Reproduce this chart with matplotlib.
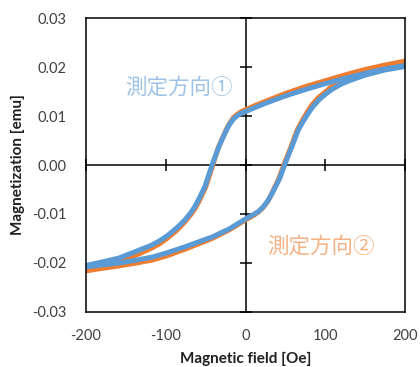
import matplotlib
matplotlib.use("Agg")
import matplotlib.pyplot as plt
from matplotlib.ticker import FormatStrFormatter

plt.rcParams['font.family'] = ['Lato', 'DejaVu Sans']
plt.rcParams['axes.unicode_minus'] = False

# hysteresis loops (field in Oe, magnetization in emu)
# direction 1 (blue)
h_down_1 = [200, 175, 150, 125, 100, 75, 50, 25, 10, 0, -5, -10, -15, -20, -24, -28,
            -34, -42, -51, -59, -64, -69, -76, -86, -97, -107, -117, -140, -159, -180,
            -200]
m_down_1 = [0.0203, 0.0196, 0.0187, 0.0177, 0.0166, 0.0154, 0.0141, 0.0126, 0.0116,
            0.0109, 0.0106, 0.0101, 0.0094, 0.0083, 0.0071, 0.0057, 0.0035, 0.0000,
            -0.0044, -0.0071, -0.0086, -0.0098, -0.0112, -0.0128, -0.0143, -0.0154,
            -0.0163, -0.0178, -0.0190, -0.0198, -0.0205]
h_up_1 = [-200, -180, -159, -140, -117, -100, -76, -42, -20, 0, 10, 16, 22, 28, 34,
          43, 49, 58, 66, 72, 78, 84, 92, 100, 109, 120, 130, 151, 175, 200]
m_up_1 = [-0.0208, -0.0204, -0.0200, -0.0195, -0.0188, -0.0180, -0.0167, -0.0147,
          -0.0130, -0.0110, -0.0101, -0.0095, -0.0086, -0.0073, -0.0056, -0.0027,
          0.0000, 0.0037, 0.0071, 0.0088, 0.0104, 0.0118, 0.0133, 0.0144, 0.0155,
          0.0165, 0.0172, 0.0184, 0.0194, 0.0201]

# direction 2 (orange)
h_down_2 = [200, 175, 150, 125, 100, 75, 50, 25, 10, 0, -5, -10, -15, -20, -24, -28,
            -34, -41, -50, -58, -63, -68, -76, -86, -97, -107, -117, -140, -159, -180,
            -200]
m_down_2 = [0.0212, 0.0204, 0.0195, 0.0184, 0.0172, 0.0160, 0.0146, 0.0130, 0.0120,
            0.0113, 0.0109, 0.0104, 0.0097, 0.0085, 0.0073, 0.0058, 0.0036, 0.0000,
            -0.0045, -0.0073, -0.0088, -0.0100, -0.0116, -0.0133, -0.0148, -0.0160,
            -0.0169, -0.0186, -0.0197, -0.0206, -0.0213]
h_up_2 = [-200, -180, -159, -140, -117, -100, -76, -42, -20, 0, 10, 16, 22, 28, 33,
          42, 48, 57, 65, 71, 77, 83, 91, 100, 108, 120, 130, 151, 175, 200]
m_up_2 = [-0.0216, -0.0211, -0.0206, -0.0201, -0.0194, -0.0186, -0.0172, -0.0150,
          -0.0132, -0.0112, -0.0103, -0.0096, -0.0087, -0.0074, -0.0058, -0.0027,
          0.0000, 0.0037, 0.0072, 0.0090, 0.0107, 0.0122, 0.0137, 0.0149, 0.0160,
          0.0170, 0.0178, 0.0191, 0.0202, 0.0210]

x_ticks = [-200, -100, 0, 100, 200]
y_ticks = [-0.03, -0.02, -0.01, 0.00, 0.01, 0.02, 0.03]

blue = '#5B9BD5'
orange = '#ED7D31'
cjk = ['Noto Sans CJK JP', 'DejaVu Sans']

fig = plt.figure(figsize=(4.2, 3.67), dpi=100)
pos = [0.2048, 0.1499, 0.7595, 0.801]

# axes with the crossing lines at zero
ax = fig.add_axes(pos)
for h, m in [(h_down_2, m_down_2), (h_up_2, m_up_2)]:
    ax.plot(h, m, color=orange, lw=3.6, zorder=3,
            solid_capstyle='round', solid_joinstyle='round')
for h, m in [(h_down_1, m_down_1), (h_up_1, m_up_1)]:
    ax.plot(h, m, color=blue, lw=3.6, zorder=4,
            solid_capstyle='round', solid_joinstyle='round')
ax.set_xlim(-200, 200)
ax.set_ylim(-0.03, 0.03)
ax.spines['left'].set_position(('data', 0))
ax.spines['bottom'].set_position(('data', 0))
ax.spines['right'].set_visible(False)
ax.spines['top'].set_visible(False)
for s in ('left', 'bottom'):
    ax.spines[s].set_linewidth(1.1)
ax.set_xticks(x_ticks)
ax.set_yticks(y_ticks)
ax.tick_params(direction='inout', length=8, width=1.1,
               labelleft=False, labelbottom=False)

ax.text(-83, 0.0159, '測定方向①', color='#9DC3E6', fontsize=15.5,
        family=cjk, ha='center', va='center')
ax.text(95, -0.0167, '測定方向②', color='#F4B183', fontsize=15.5,
        family=cjk, ha='center', va='center')

# outer box carrying the tick labels
box = fig.add_axes(pos)
box.patch.set_visible(False)
box.set_xlim(-200, 200)
box.set_ylim(-0.03, 0.03)
box.set_xticks(x_ticks)
box.set_yticks(y_ticks)
box.yaxis.set_major_formatter(FormatStrFormatter('%.2f'))
box.tick_params(length=0, labelsize=10.5, colors='#404040', pad=14)
box.tick_params(axis='x', pad=12)
for s in box.spines.values():
    s.set_linewidth(1.1)
box.set_xlabel('Magnetic field [Oe]', fontsize=11, fontweight='bold', color='#202020')
box.set_ylabel('Magnetization [emu]', fontsize=11, fontweight='bold', color='#202020')
box.xaxis.set_label_coords(0.5, -0.137)
box.yaxis.set_label_coords(-0.19, 0.5)

fig.savefig('out.png', dpi=100)
